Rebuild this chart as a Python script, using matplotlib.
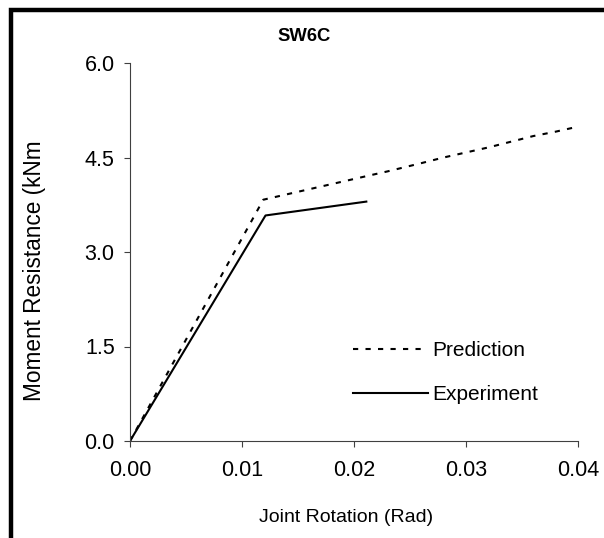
import matplotlib
matplotlib.use('Agg')
import matplotlib.pyplot as plt
from matplotlib.patches import Rectangle

# data
pred_x = [0.0, 0.0119, 0.0215, 0.0230, 0.0260, 0.0280, 0.0300, 0.0320,
          0.0340, 0.0360, 0.0380, 0.0400]
pred_y = [0.0, 3.83, 4.22, 4.28, 4.41, 4.50, 4.58, 4.66, 4.75, 4.84, 4.91, 4.99]

exp_x = [0.0, 0.0121, 0.0211]
exp_y = [0.0, 3.58, 3.80]

x_ticks = [0.00, 0.01, 0.02, 0.03, 0.04]
y_ticks = [0.0, 1.5, 3.0, 4.5, 6.0]

plt.rcParams['font.family'] = ['Liberation Sans', 'DejaVu Sans']

fig = plt.figure(figsize=(6.04, 5.38), dpi=100)
ax = fig.add_axes([130 / 604, 1 - 441 / 538, 448 / 604, 378 / 538])

ax.plot(pred_x, pred_y, color='black', lw=1.5, dashes=[2.5, 3.5], label='Prediction')
ax.plot(exp_x, exp_y, color='black', lw=1.5, label='Experiment')

ax.set_xlim(0, 0.04)
ax.set_ylim(0, 6.0)
ax.set_xticks(x_ticks)
ax.set_xticklabels([f'{v:.2f}' for v in x_ticks])
ax.set_yticks(y_ticks)
ax.set_yticklabels([f'{v:.1f}' for v in y_ticks])
ax.tick_params(labelsize=15.5, length=4, width=0.8, color='#404040', pad=7)
ax.tick_params(axis='x', pad=10)

for side in ['top', 'right']:
    ax.spines[side].set_visible(False)
for side in ['left', 'bottom']:
    ax.spines[side].set_color('#404040')
    ax.spines[side].set_linewidth(0.8)

# axis titles placed as in the reference
fig.text(346 / 604, 1 - 517 / 538, 'Joint Rotation (Rad)', fontsize=14,
         ha='center', va='center')
fig.text(35 / 604, 1 - 271 / 538, 'Moment Resistance (kNm', fontsize=16.3,
         rotation=90, ha='center', va='center')

fig.text(304 / 604, 1 - 37 / 538, 'SW6C', fontsize=13.3, fontweight='bold',
         ha='center', va='center')

ax.legend(frameon=False, loc='upper left', bbox_to_anchor=(0.48, 0.286),
          fontsize=15, handlelength=3.6, handletextpad=0.2, labelspacing=1.2,
          borderaxespad=0)

# thick outer frame (left and top edges visible)
fig.patches.append(Rectangle((11 / 604, -0.1), 1.2, 1 - 10 / 538 + 0.1,
                             transform=fig.transFigure, fill=False,
                             edgecolor='black', lw=3.2))

plt.savefig('out.png', dpi=100)
